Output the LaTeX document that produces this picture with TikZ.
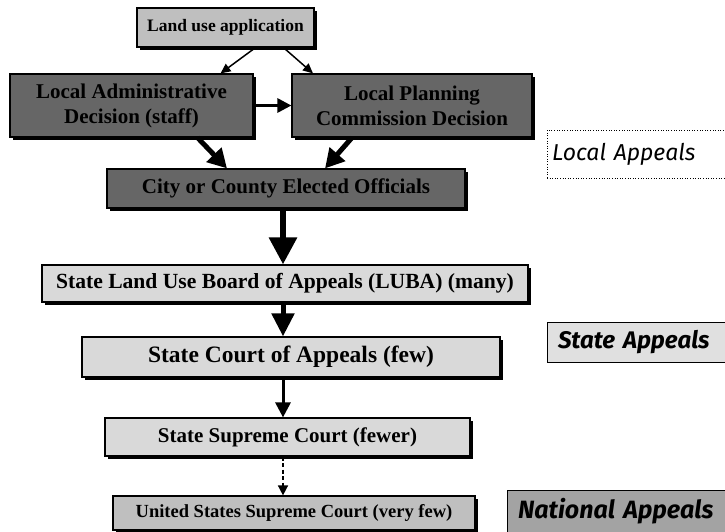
\documentclass[tikz,border=0pt]{standalone}
\usepackage{fontspec}
\setmainfont{Liberation Serif}
\newfontfamily\sidefont{Fira Sans}
\usetikzlibrary{arrows.meta,shadows}

\definecolor{darkfill}{gray}{0.40}
\definecolor{lightfill}{gray}{0.85}
\definecolor{midfill}{gray}{0.75}
\definecolor{statefill}{gray}{0.88}
\definecolor{natfill}{gray}{0.64}

\begin{document}
\begin{tikzpicture}[x=1pt,y=-1pt,>=Triangle,
    box/.style={draw=black,line width=1.2pt,inner sep=0pt,align=center,
      font=\bfseries\fontsize{21}{25}\selectfont,
      drop shadow={shadow xshift=2.5pt,shadow yshift=-2.5pt,fill=black,opacity=1}},
    darkbox/.style={box,fill=darkfill},
    lightbox/.style={box,fill=lightfill},
    sidebox/.style={draw=black,line width=0.6pt,inner sep=0pt,align=left,
      font=\sidefont\itshape\bfseries\fontsize{24}{26}\selectfont},
    thinarr/.style={->,line width=1.5pt,>={Triangle[length=10pt,width=9pt]}},
    bigarr/.style={->,line width=5pt,>={Triangle[length=19pt,width=20pt]}}]
    \useasboundingbox (0,0) rectangle (725,531);

    \node[box,fill=midfill,minimum width=177pt,minimum height=39pt,
      font=\bfseries\fontsize{17.5}{20}\selectfont] (land) at (225.5,27.5) {Land use application};
    \node[darkbox,minimum width=243pt,minimum height=63pt] (admin) at (131.5,105.5)
      {Local Administrative\\Decision (staff)};
    \node[darkbox,minimum width=240pt,minimum height=63pt] (plan) at (412,105.5)
      {Local Planning\\Commission Decision};
    \node[darkbox,minimum width=358pt,minimum height=39pt] (city) at (286,188.5)
      {City or County Elected Officials};
    \node[lightbox,minimum width=486pt,minimum height=37pt,
      font=\bfseries\fontsize{21.6}{25}\selectfont] (luba) at (285,283.5)
      {State Land Use Board of Appeals (LUBA) (many)};
    \node[lightbox,minimum width=418pt,minimum height=40pt,
      font=\bfseries\fontsize{23.5}{26}\selectfont] (court) at (291,357) {State Court of Appeals (few)};
    \node[lightbox,minimum width=365pt,minimum height=38pt] (supreme) at (287.5,437)
      {State Supreme Court (fewer)};
    \node[box,fill=midfill,minimum width=362pt,minimum height=34pt,
      font=\bfseries\fontsize{18.5}{20}\selectfont] (us) at (294,513) {United States Supreme Court (very few)};

    \node[sidebox,fill=white,dotted,text width=170pt,minimum width=180pt,minimum height=48pt,
      font=\sidefont\itshape\fontsize{23}{26}\selectfont] (localap) at (637,154) {Local Appeals};
    \node[sidebox,fill=statefill,text width=159pt,minimum width=181pt,minimum height=40pt] (stateap)
      at (637.5,342) {State Appeals};
    \node[sidebox,fill=natfill,text width=199pt,minimum width=221pt,minimum height=42pt,
      font=\sidefont\itshape\bfseries\fontsize{25}{26}\selectfont] (natap) at (617.5,511)
      {National Appeals};

    \draw[thinarr] ([xshift=30pt]land.south) -- ([xshift=89pt]admin.north);
    \draw[thinarr] ([xshift=58pt]land.south) -- ([xshift=-99pt]plan.north);
    \draw[->,line width=3pt,>={Triangle[length=14pt,width=14pt]}] (admin.east) -- (plan.west);
    \draw[bigarr] ([xshift=66pt]admin.south) -- ([xshift=-59pt]city.north);
    \draw[bigarr] ([xshift=-60pt]plan.south) -- ([xshift=39pt]city.north);
    \draw[->,line width=6pt,>={Triangle[length=27pt,width=27pt]}]
      ([xshift=-3pt]city.south) -- ([xshift=-3pt]city.south |- luba.north);
    \draw[->,line width=5pt,>={Triangle[length=23pt,width=22pt]}]
      ([xshift=-2pt]luba.south) -- ([xshift=-2pt]luba.south |- court.north);
    \draw[->,line width=3pt,>={Triangle[length=15pt,width=15pt]}]
      ([xshift=-8pt]court.south) -- ([xshift=-8pt]court.south |- supreme.north);
    \draw[->,line width=1.5pt,dash pattern=on 4pt off 2.5pt,>={Triangle[length=10pt,width=10pt]}]
      ([xshift=-4.5pt]supreme.south) -- ([xshift=-4.5pt]supreme.south |- us.north);
\end{tikzpicture}
\end{document}
